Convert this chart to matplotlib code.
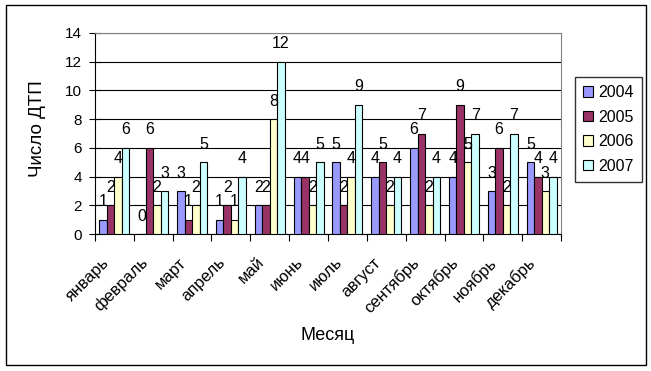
import matplotlib
matplotlib.use("Agg")
import matplotlib.pyplot as plt
import matplotlib.transforms as mtransforms
import numpy as np
from matplotlib.patches import Rectangle

months = ["январь", "февраль", "март", "апрель", "май", "июнь", "июль",
          "август", "сентябрь", "октябрь", "ноябрь", "декабрь"]
years = ["2004", "2005", "2006", "2007"]
v2004 = [1, 0, 3, 1, 2, 4, 5, 4, 6, 4, 3, 5]
v2005 = [2, 6, 1, 2, 2, 4, 2, 5, 7, 9, 6, 4]
v2006 = [4, 2, 2, 1, 8, 2, 4, 2, 2, 5, 2, 3]
v2007 = [6, 3, 5, 4, 12, 5, 9, 4, 4, 7, 7, 4]
series = [v2004, v2005, v2006, v2007]
colors = ["#9999FF", "#993366", "#FFFFCC", "#CCFFFF"]

plt.rcParams['font.family'] = ['Liberation Sans', 'DejaVu Sans']

W, H = 651, 371
fig = plt.figure(figsize=(W / 100, H / 100), dpi=100)
fig.patch.set_facecolor("white")
fig.add_artist(Rectangle((6/W, 1 - 365/H), 640/W, 360/H, transform=fig.transFigure,
                         fill=False, edgecolor="black", linewidth=1))
ax = fig.add_axes([95/W, 1 - 234/H, (561 - 95)/W, (234 - 33)/H])

x = np.arange(len(months))
w = 0.193
for i, (vals, c, y) in enumerate(zip(series, colors, years)):
    pos = x + (i - 1.5) * w
    ax.bar(pos, vals, width=w, color=c, edgecolor="black", linewidth=0.8, label=y, zorder=3)
    for p, v in zip(pos, vals):
        ax.annotate(str(v), (p, v), xytext=(0, 7.5), textcoords="offset points",
                    ha="center", va="bottom", fontsize=11.5, zorder=4)

ax.set_xlim(-0.5, len(months) - 0.5)
ax.set_ylim(0, 14)
ax.set_yticks(range(0, 15, 2))
ax.yaxis.grid(True, color="black", linewidth=0.8, zorder=0)
ax.set_axisbelow(True)
ax.set_xticks(np.arange(-0.5, len(months), 1))
ax.set_xticklabels([])
ax.tick_params(axis="x", which="major", length=5, direction="out", color="black")
ax.tick_params(axis="y", labelsize=11, length=9, direction="inout", pad=5)

# month labels, rotated 45 degrees, anchored below each category centre
lbl_trans = ax.get_xaxis_transform() + mtransforms.ScaledTranslation(-8/100, -26/100, fig.dpi_scale_trans)
for xi, m in zip(x, months):
    ax.text(xi, 0, m, transform=lbl_trans, rotation=45, ha="right", va="center",
            rotation_mode="anchor", fontsize=12, clip_on=False)

for s in ["top", "right"]:
    ax.spines[s].set_color("#808080")
for s in ["left", "bottom"]:
    ax.spines[s].set_color("black")

fig.text(37/W, 1 - 129/H, "Число ДТП", rotation=90, ha="center", va="center", fontsize=13.5)
fig.text(328/W, 1 - 336/H, "Месяц", ha="center", va="center", fontsize=13)

leg = ax.legend(loc="upper left", bbox_to_anchor=(575/W, 1 - 77/H), bbox_transform=fig.transFigure,
                frameon=True, fancybox=False, edgecolor="black", fontsize=11.5,
                handlelength=0.62, handleheight=0.62, labelspacing=0.6, borderpad=0.5,
                handletextpad=0.35, borderaxespad=0)
leg.get_frame().set_linewidth(1)

fig.savefig("out.png", dpi=100)
